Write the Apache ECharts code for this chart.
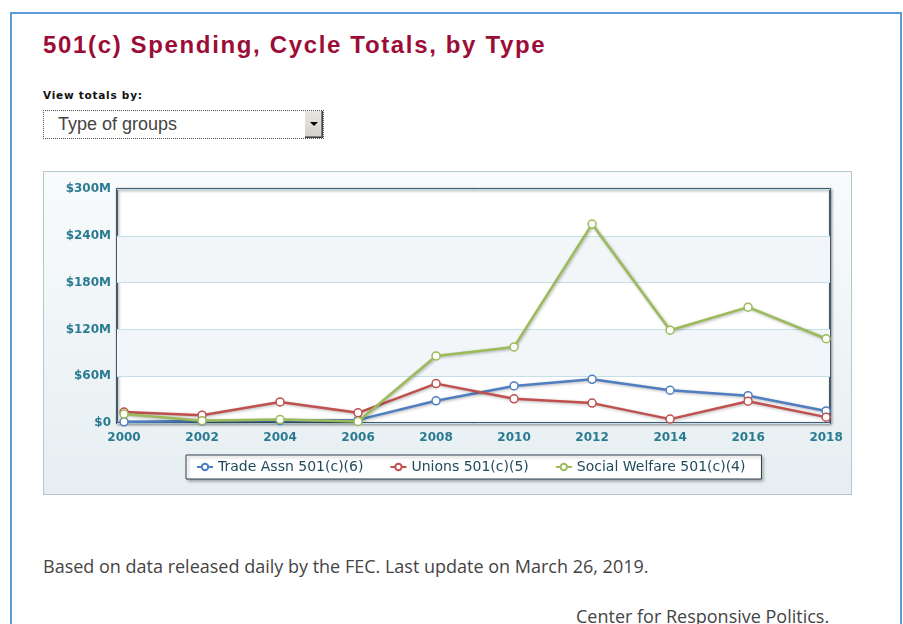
<!DOCTYPE html>
<html>
<head>
<meta charset="utf-8">
<script src="https://cdn.jsdelivr.net/npm/echarts@6/dist/echarts.min.js"></script>
<style>
  html, body { margin:0; padding:0; background:#fff; width:903px; height:624px; overflow:hidden; }
  #frame { position:absolute; left:10px; top:12px; width:892px; height:640px; border:2px solid #5b9bd5; box-sizing:border-box; }
  #title { position:absolute; left:43px; top:31px; font-family:"Liberation Sans", Arial, sans-serif; font-weight:bold; font-size:24px; letter-spacing:1.65px; color:#9b0d37; white-space:nowrap; }
  #viewby { position:absolute; left:43px; top:89px; font-family:"DejaVu Sans",sans-serif; font-weight:bold; font-size:10.5px; letter-spacing:0.75px; color:#111; white-space:nowrap; }
  #select { position:absolute; left:43px; top:110px; width:281px; height:29px; border:1px dotted #555; box-sizing:border-box; background:#fff; }
  #select span { position:absolute; left:14px; top:3px; font-family:"Liberation Sans", Arial, sans-serif; font-size:18px; color:#444; white-space:nowrap; }
  #btn { position:absolute; right:0px; top:0px; width:18px; height:27px; background:linear-gradient(#e8e6e0,#d4d0c8); border-left:1px solid #fff; box-shadow: inset -1px -1px 0 #404040, inset -2px -2px 0 #808080; }
  #btn:after { content:""; position:absolute; left:5px; top:11px; border-left:4px solid transparent; border-right:4px solid transparent; border-top:4px solid #000; }
  #panel { position:absolute; left:43px; top:171px; width:809px; height:324px; box-sizing:border-box; border:1px solid #b8c6ce; background:linear-gradient(to bottom, #f8fbfc 0%, #eef4f6 60%, #e6eef1 100%); }
  #chart { position:absolute; left:43px; top:171px; width:809px; height:324px; }
  #foot1 { position:absolute; left:43px; top:554px; font-family:"Open Sans", sans-serif; font-size:18px; color:#444; white-space:nowrap; }
  #foot2 { position:absolute; left:576px; top:604px; font-family:"Open Sans", sans-serif; font-size:18px; color:#444; white-space:nowrap; }
</style>
</head>
<body>
<div id="frame"></div>
<div id="title">501(c) Spending, Cycle Totals, by Type</div>
<div id="viewby">View totals by:</div>
<div id="select"><span>Type of groups</span><div id="btn"></div></div>
<div id="panel"></div>
<div id="chart"></div>
<div id="foot1">Based on data released daily by the FEC. Last update on March 26, 2019.</div>
<div id="foot2">Center for Responsive Politics.</div>
<script>
// ---- data ----
const years = [2000, 2002, 2004, 2006, 2008, 2010, 2012, 2014, 2016, 2018];
const tradeAssn = [1.5, 2.5, 3, 4, 28.5, 47.5, 56, 42, 35, 15.5];
const unions = [14, 10, 27, 13, 50.5, 31, 25.5, 5, 28, 7.5];
const socialWelfare = [11.5, 3, 4.5, 2, 86, 97.5, 255, 119, 148.5, 108];
const yTicks = [0, 60, 120, 180, 240, 300];
const seriesNames = ['Trade Assn 501(c)(6)', 'Unions 501(c)(5)', 'Social Welfare 501(c)(4)'];
const seriesColors = ['#4f7fc1', '#c0504d', '#9bbb59'];

const pair = arr => years.map((y, i) => [y, arr[i]]);
const allData = [tradeAssn, unions, socialWelfare];

const chart = echarts.init(document.getElementById('chart'), null, { renderer: 'canvas' });
const labelFont = { fontFamily: 'DejaVu Sans, Verdana, sans-serif', fontSize: 12, fontWeight: 'bold', color: '#2a7b92' };

chart.setOption({
  animation: false,
  backgroundColor: 'transparent',
  grid: {
    left: 74, top: 18, right: 22, bottom: 72,
    show: true, backgroundColor: '#ffffff',
    borderColor: '#44596b', borderWidth: 2,
    shadowColor: 'rgba(0,0,0,0.35)', shadowBlur: 3, shadowOffsetX: 1, shadowOffsetY: 1
  },
  xAxis: {
    type: 'value', min: 1999.82, max: 2018.1,
    axisLine: { show: false }, axisTick: { show: false },
    splitLine: { show: false },
    axisLabel: Object.assign({ customValues: years, margin: 9, formatter: v => String(v) }, labelFont)
  },
  yAxis: {
    type: 'value', min: 0, max: 300, interval: 60,
    axisLine: { show: false }, axisTick: { show: false },
    splitLine: { show: true, lineStyle: { color: '#c3e0e8', width: 1 } },
    splitArea: { show: true, areaStyle: { color: ['rgba(255,255,255,0)', '#f2f6f8'] } },
    axisLabel: Object.assign({ margin: 6, formatter: v => v === 0 ? '$0' : '$' + v + 'M' }, labelFont)
  },
  legend: {
    left: 143, top: 284,
    backgroundColor: '#ffffff', borderColor: '#2f3f4f', borderWidth: 1,
    padding: [5, 16, 5, 10], itemGap: 26, itemWidth: 16, itemHeight: 8,
    shadowColor: 'rgba(0,0,0,0.3)', shadowBlur: 3, shadowOffsetX: 2, shadowOffsetY: 2,
    textStyle: { fontFamily: 'DejaVu Sans, Verdana, sans-serif', fontSize: 14, color: '#1e4a5c' },
    data: seriesNames
  },
  series: allData.map((d, i) => ({
    name: seriesNames[i], type: 'line', data: pair(d),
    symbol: 'circle', symbolSize: 8,
    itemStyle: { color: '#ffffff', borderColor: seriesColors[i], borderWidth: 1.5 },
    lineStyle: { color: seriesColors[i], width: 2.5, shadowColor: 'rgba(0,0,0,0.3)', shadowBlur: 3, shadowOffsetX: 1, shadowOffsetY: 1 },
    z: 2 + i
  }))
});
</script>
</body>
</html>
